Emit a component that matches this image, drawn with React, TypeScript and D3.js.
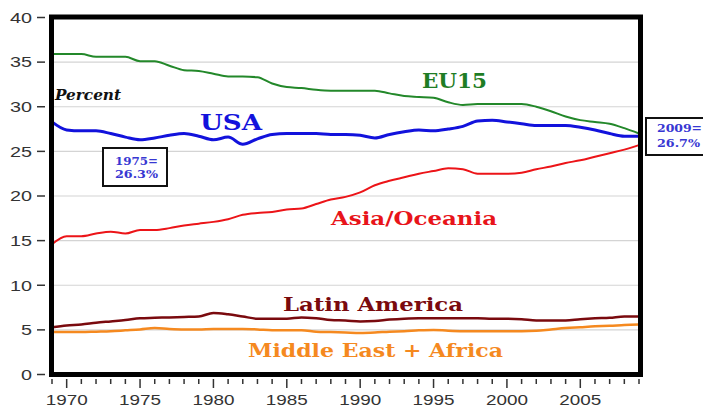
import React from "react";
import * as d3 from "d3";

const W = 703;
const H = 407;

const years: number[] = d3.range(1969, 2010);

const eu15: number[] = [
  35.9, 35.9, 35.9, 35.6, 35.6, 35.6, 35.1, 35.1, 34.6, 34.1,
  34.0, 33.7, 33.4, 33.4, 33.3, 32.6, 32.2, 32.1, 31.9, 31.8,
  31.8, 31.8, 31.8, 31.5, 31.2, 31.1, 31.0, 30.5, 30.2, 30.3,
  30.3, 30.3, 30.3, 30.0, 29.5, 28.9, 28.5, 28.3, 28.1, 27.6,
  27.0,
];

const usa: number[] = [
  28.3, 27.4, 27.3, 27.3, 27.0, 26.6, 26.3, 26.5, 26.8, 27.0,
  26.7, 26.3, 26.6, 25.8, 26.4, 26.9, 27.0, 27.0, 27.0, 26.9,
  26.9, 26.8, 26.5, 26.9, 27.2, 27.4, 27.3, 27.5, 27.8, 28.4,
  28.5, 28.3, 28.1, 27.9, 27.9, 27.9, 27.7, 27.4, 27.0, 26.7,
  26.7,
];

const asia: number[] = [
  14.6, 15.5, 15.5, 15.8, 16.0, 15.8, 16.2, 16.2, 16.4, 16.7,
  16.9, 17.1, 17.4, 17.9, 18.1, 18.2, 18.5, 18.6, 19.1, 19.6,
  19.9, 20.4, 21.2, 21.7, 22.1, 22.5, 22.8, 23.1, 23.0, 22.5,
  22.5, 22.5, 22.6, 23.0, 23.3, 23.7, 24.0, 24.4, 24.8, 25.2,
  25.7,
];

const latin: number[] = [
  5.3, 5.5, 5.6, 5.8, 5.95, 6.1, 6.3, 6.35, 6.4, 6.45,
  6.5, 6.9, 6.75, 6.5, 6.25, 6.25, 6.25, 6.4, 6.3, 6.1,
  6.05, 5.95, 6.0, 6.15, 6.25, 6.3, 6.3, 6.3, 6.3, 6.3,
  6.25, 6.25, 6.2, 6.05, 6.05, 6.05, 6.2, 6.3, 6.35, 6.5,
  6.5,
];

const mideast: number[] = [
  4.75, 4.75, 4.75, 4.8, 4.85, 4.95, 5.05, 5.2, 5.1, 5.05,
  5.05, 5.1, 5.1, 5.1, 5.05, 4.95, 4.95, 4.95, 4.8, 4.75,
  4.7, 4.65, 4.7, 4.8, 4.85, 4.95, 5.0, 4.9, 4.85, 4.85,
  4.85, 4.85, 4.85, 4.9, 5.05, 5.2, 5.3, 5.4, 5.45, 5.55,
  5.6,
];

const yTicks: number[] = [0, 5, 10, 15, 20, 25, 30, 35, 40];
const xMajorTicks: number[] = [1970, 1975, 1980, 1985, 1990, 1995, 2000, 2005];

const x = d3.scaleLinear().domain([1969, 2009]).range([52, 639]);
const y = d3.scaleLinear().domain([0, 40]).range([374.5, 17.5]);

const series = [
  { name: "Middle East + Africa", values: mideast, color: "#f5891f", width: 2.5 },
  { name: "Latin America", values: latin, color: "#7a0a0e", width: 2.5 },
  { name: "Asia/Oceania", values: asia, color: "#ec1418", width: 2 },
  { name: "EU15", values: eu15, color: "#23882a", width: 2 },
  { name: "USA", values: usa, color: "#1212dc", width: 3 },
];

const lineGen = (vals: number[]) =>
  d3
    .line<number>()
    .x((_, i) => x(years[i]))
    .y((d) => y(d))
    .curve(d3.curveMonotoneX)(vals) || "";

const serif = "'DejaVu Serif', 'Liberation Serif', serif";
const sans = "'Liberation Sans', Arial, sans-serif";

export default function App() {
  return (
    <svg
      width={W}
      height={H}
      style={{ position: "absolute", left: 0, top: 0, background: "#fff" }}
    >
      <rect x={0} y={0} width={W} height={H} fill="#fff" />
      {/* gridlines */}
      {yTicks
        .filter((t) => t > 0 && t < 40)
        .map((t) => (
          <line
            key={"g" + t}
            x1={x(1969)}
            x2={x(2009)}
            y1={y(t)}
            y2={y(t)}
            stroke="#d4d4d4"
            strokeWidth={1.2}
          />
        ))}
      {/* series */}
      {series.map((s) => (
        <path
          key={s.name}
          d={lineGen(s.values)}
          fill="none"
          stroke={s.color}
          strokeWidth={s.width}
          strokeLinejoin="round"
        />
      ))}
      {/* frame */}
      <rect
        x={x(1969) - 0.5}
        y={y(40) - 0.5}
        width={x(2009) - x(1969) + 2}
        height={y(0) - y(40) + 0.5}
        fill="none"
        stroke="#000"
        strokeWidth={5}
      />
      {/* y axis */}
      {yTicks.map((t) => (
        <g key={"y" + t}>
          <line x1={37} x2={45} y1={y(t)} y2={y(t)} stroke="#333" strokeWidth={1.5} />
          <text
            x={32}
            y={y(t) + 5.3}
            textAnchor="end"
            fontFamily={sans}
            fontSize={15}
            fill="#333"
            textLength={t < 10 ? 11 : 22}
            lengthAdjust="spacingAndGlyphs"
          >
            {t}
          </text>
        </g>
      ))}
      {/* x axis ticks */}
      {years.map((yr) => {
        const major = xMajorTicks.includes(yr);
        return (
          <line
            key={"xt" + yr}
            x1={x(yr)}
            x2={x(yr)}
            y1={379}
            y2={major ? 388 : 384}
            stroke="#333"
            strokeWidth={1.5}
          />
        );
      })}
      {xMajorTicks.map((yr) => (
        <text
          key={"xl" + yr}
          x={x(yr) - 21}
          y={405}
          fontFamily={sans}
          fontSize={14.5}
          fill="#333"
          textLength={42}
          lengthAdjust="spacingAndGlyphs"
        >
          {yr}
        </text>
      ))}
      {/* labels */}
      <text x={55} y={100} fontFamily={serif} fontStyle="italic" fontWeight="bold" fontSize={14} fill="#111" textLength={66} lengthAdjust="spacingAndGlyphs">
        Percent
      </text>
      <text x={200} y={130} fontFamily={serif} fontWeight="bold" fontSize={23} fill="#1212dc" textLength={62} lengthAdjust="spacingAndGlyphs">
        USA
      </text>
      <text x={422} y={87.5} fontFamily={serif} fontWeight="bold" fontSize={20} fill="#1f7d25" textLength={65} lengthAdjust="spacingAndGlyphs">
        EU15
      </text>
      <text x={331} y={225} fontFamily={serif} fontWeight="bold" fontSize={19} fill="#e8141a" textLength={166} lengthAdjust="spacingAndGlyphs">
        Asia/Oceania
      </text>
      <text x={283} y={311} fontFamily={serif} fontWeight="bold" fontSize={19} fill="#7a0a0e" textLength={180} lengthAdjust="spacingAndGlyphs">
        Latin America
      </text>
      <text x={248} y={357} fontFamily={serif} fontWeight="bold" fontSize={19} fill="#f5891f" textLength={255} lengthAdjust="spacingAndGlyphs">
        Middle East + Africa
      </text>
      {/* callout boxes */}
      <rect x={103} y={148} width={64} height={38} fill="#fff" stroke="#111" strokeWidth={2} />
      <text x={115} y={165} fontFamily={serif} fontWeight="bold" fontSize={11} fill="#3737d2" textLength={43} lengthAdjust="spacingAndGlyphs">
        1975=
      </text>
      <text x={115} y={178} fontFamily={serif} fontWeight="bold" fontSize={11} fill="#3737d2" textLength={43} lengthAdjust="spacingAndGlyphs">
        26.3%
      </text>
      <rect x={646} y={118} width={70} height={37} fill="#fff" stroke="#111" strokeWidth={2} />
      <text x={657} y={132} fontFamily={serif} fontWeight="bold" fontSize={11} fill="#3737d2" textLength={45} lengthAdjust="spacingAndGlyphs">
        2009=
      </text>
      <text x={657} y={147} fontFamily={serif} fontWeight="bold" fontSize={11} fill="#3737d2" textLength={43} lengthAdjust="spacingAndGlyphs">
        26.7%
      </text>
    </svg>
  );
}
